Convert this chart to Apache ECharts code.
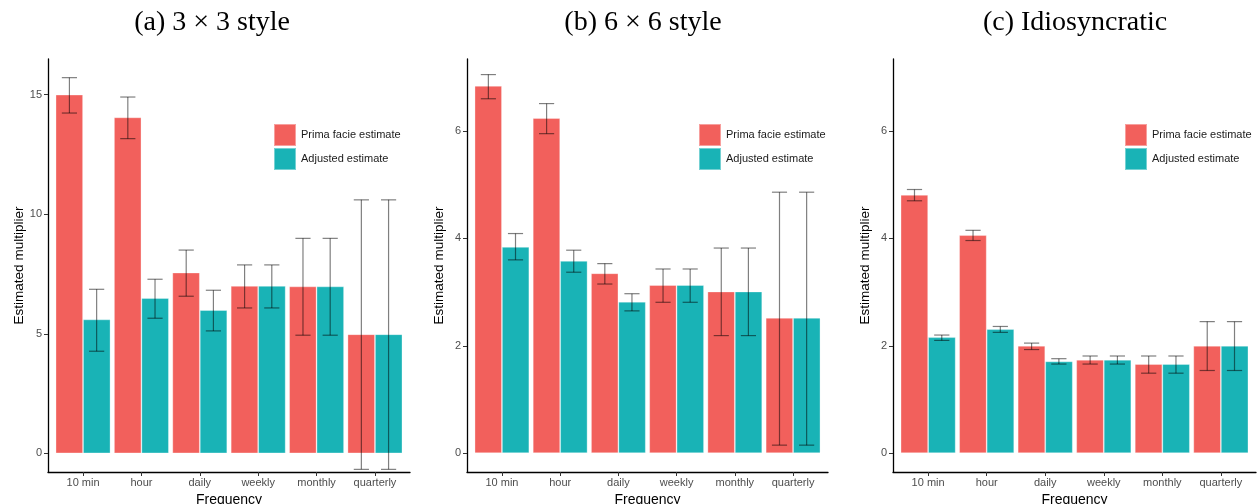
<!DOCTYPE html>
<html>
<head>
<meta charset="utf-8">
<script src="https://cdn.jsdelivr.net/npm/echarts@6/dist/echarts.min.js"></script>
<style>html,body{margin:0;padding:0;background:#fff;}#c{width:1257px;height:504px;}</style>
</head>
<body>
<div id="c"></div>
<script>
// ---- data ----
const categories = ['10 min', 'hour', 'daily', 'weekly', 'monthly', 'quarterly'];
const seriesNames = ['Prima facie estimate', 'Adjusted estimate'];
const panelTitles = ['(a) 3 \u00d7 3 style', '(b) 6 \u00d7 6 style', '(c) Idiosyncratic'];

// panel (a) 3x3 style
const primaA    = [15.00, 14.05, 7.56, 7.00, 6.98, 4.98];
const primaA_lo = [14.23, 13.16, 6.57, 6.08, 4.94, -0.67];
const primaA_hi = [15.71, 14.90, 8.50, 7.88, 8.99, 10.60];
const adjA      = [5.60, 6.49, 5.99, 7.00, 6.98, 4.98];
const adjA_lo   = [4.27, 5.65, 5.12, 6.08, 4.94, -0.67];
const adjA_hi   = [6.86, 7.28, 6.82, 7.88, 8.99, 10.60];

// panel (b) 6x6 style
const primaB    = [6.84, 6.24, 3.35, 3.13, 3.01, 2.52];
const primaB_lo = [6.60, 5.95, 3.15, 2.81, 2.19, 0.15];
const primaB_hi = [7.05, 6.51, 3.53, 3.43, 3.82, 4.86];
const adjB      = [3.84, 3.58, 2.82, 3.13, 3.01, 2.52];
const adjB_lo   = [3.60, 3.37, 2.65, 2.81, 2.19, 0.15];
const adjB_hi   = [4.09, 3.78, 2.97, 3.43, 3.82, 4.86];

// panel (c) Idiosyncratic
const primaC    = [4.81, 4.06, 2.00, 1.74, 1.66, 2.00];
const primaC_lo = [4.70, 3.96, 1.93, 1.66, 1.49, 1.54];
const primaC_hi = [4.91, 4.15, 2.05, 1.81, 1.81, 2.45];
const adjC      = [2.16, 2.31, 1.71, 1.74, 1.66, 2.00];
const adjC_lo   = [2.10, 2.25, 1.66, 1.66, 1.49, 1.54];
const adjC_hi   = [2.20, 2.36, 1.76, 1.81, 1.81, 2.45];

const yTicksA  = [0, 5, 10, 15];
const yTicksBC = [0, 2, 4, 6];
const xTicks   = [1, 2, 3, 4, 5, 6];

// ---- build ----
const RED = '#F2605C', TEAL = '#19B3B6';
const FONT = 'Liberation Sans';
const panels = [
  {title: panelTitles[0], titleX: 212, grid: {left: 48, top: 59, width: 362, height: 413}, ymin: -0.78, ymax: 16.49, yticks: yTicksA,
   legendX: 273,
   data: [[primaA, primaA_lo, primaA_hi], [adjA, adjA_lo, adjA_hi]]},
  {title: panelTitles[1], titleX: 643, grid: {left: 467, top: 59, width: 361, height: 413}, ymin: -0.35, ymax: 7.34, yticks: yTicksBC,
   legendX: 698,
   data: [[primaB, primaB_lo, primaB_hi], [adjB, adjB_lo, adjB_hi]]},
  {title: panelTitles[2], titleX: 1075, grid: {left: 893, top: 59, width: 363, height: 413}, ymin: -0.35, ymax: 7.34, yticks: yTicksBC,
   legendX: 1124,
   data: [[primaC, primaC_lo, primaC_hi], [adjC, adjC_lo, adjC_hi]]}
];

const option = {
  animation: false,
  backgroundColor: '#ffffff',
  title: [], grid: [], xAxis: [], yAxis: [], legend: [], series: []
};

const OFFSET = 0.233;  // half of bar width in category units
const CAP = 0.13;      // half width of error bar caps

panels.forEach((p, pi) => {
  option.title.push({
    text: p.title, left: p.titleX, top: 9, textAlign: 'center', padding: 0,
    textStyle: {fontFamily: 'Liberation Serif', fontWeight: 'normal', fontSize: 28, color: '#000'}
  });
  option.grid.push(Object.assign({containLabel: false, outerBoundsMode: 'none'}, p.grid));
  option.xAxis.push({
    type: 'value', gridIndex: pi, min: 0.4, max: 6.6,
    name: 'Frequency', nameLocation: 'middle', nameGap: 15,
    nameTextStyle: {fontFamily: FONT, fontSize: 14, color: '#000'},
    axisLine: {show: true, onZero: false, lineStyle: {color: '#000', width: 1.3}},
    axisTick: {show: true, length: 4, customValues: xTicks, lineStyle: {color: '#333'}},
    axisLabel: {customValues: xTicks, margin: 5, fontFamily: FONT, fontSize: 11, color: '#4D4D4D',
      formatter: v => categories[Math.round(v) - 1] || ''},
    splitLine: {show: false}
  });
  option.yAxis.push({
    type: 'value', gridIndex: pi, min: p.ymin, max: p.ymax,
    name: 'Estimated multiplier', nameLocation: 'middle', nameGap: 21,
    nameTextStyle: {fontFamily: FONT, fontSize: 13.5, color: '#000'},
    axisLine: {show: true, onZero: false, lineStyle: {color: '#000', width: 1.3}},
    axisTick: {show: true, length: 4, customValues: p.yticks, lineStyle: {color: '#333'}},
    axisLabel: {customValues: p.yticks, margin: 6, fontFamily: FONT, fontSize: 11, color: '#4D4D4D'},
    splitLine: {show: false}
  });
  option.legend.push({
    left: p.legendX, top: 123, orient: 'vertical', icon: 'rect', padding: 0,
    itemWidth: 22, itemHeight: 22, itemGap: 0, selectedMode: false,
    textStyle: {fontFamily: FONT, fontSize: 11, color: '#1a1a1a'},
    data: seriesNames
  });
  p.data.forEach((d, si) => {
    const color = si === 0 ? RED : TEAL;
    option.series.push({
      type: 'bar', name: seriesNames[si], xAxisIndex: pi, yAxisIndex: pi,
      barWidth: '47%', barGap: '0%',
      itemStyle: {color: color, borderColor: 'rgba(255,255,255,0.4)', borderWidth: 0.8},
      data: d[0].map((v, i) => [xTicks[i], v]),
      z: 2
    });
  });
  p.data.forEach((d, si) => {
    const off = si === 0 ? -OFFSET : OFFSET;
    option.series.push({
      type: 'custom', name: 'err' + pi + si, xAxisIndex: pi, yAxisIndex: pi,
      data: d[1].map((lo, i) => [xTicks[i], lo, d[2][i]]),
      encode: {x: 0, y: [1, 2]},
      z: 5, silent: true,
      renderItem: (params, api) => {
        const x = api.value(0) + off;
        const lo = api.value(1), hi = api.value(2);
        const pTop = api.coord([x, hi]);
        const pBot = api.coord([x, lo]);
        const pTL = api.coord([x - CAP, hi]), pTR = api.coord([x + CAP, hi]);
        const pBL = api.coord([x - CAP, lo]), pBR = api.coord([x + CAP, lo]);
        const style = {stroke: 'rgba(0,0,0,0.5)', lineWidth: 1.2, fill: null};
        return {type: 'group', children: [
          {type: 'line', shape: {x1: pTop[0], y1: pTop[1], x2: pBot[0], y2: pBot[1]}, style: style},
          {type: 'line', shape: {x1: pTL[0], y1: pTL[1], x2: pTR[0], y2: pTR[1]}, style: style},
          {type: 'line', shape: {x1: pBL[0], y1: pBL[1], x2: pBR[0], y2: pBR[1]}, style: style}
        ]};
      }
    });
  });
});

const chart = echarts.init(document.getElementById('c'), null, {renderer: 'canvas'});
chart.setOption(option);
</script>
</body>
</html>
